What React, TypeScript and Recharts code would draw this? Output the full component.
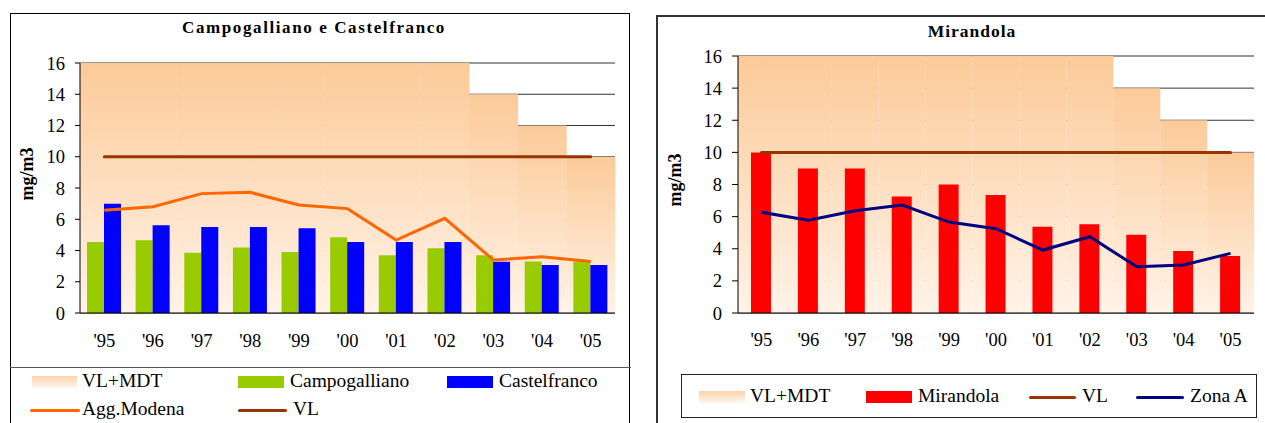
import React from 'react';
import { ComposedChart, Bar, Line, XAxis, YAxis, CartesianGrid, ReferenceLine } from 'recharts';

const years = ["'95", "'96", "'97", "'98", "'99", "'00", "'01", "'02", "'03", "'04", "'05"];
const vlMdt = [16, 16, 16, 16, 16, 16, 16, 16, 14, 12, 10];
const vl = [10, 10, 10, 10, 10, 10, 10, 10, 10, 10, 10];
const campogalliano = [4.55, 4.65, 3.85, 4.2, 3.9, 4.85, 3.7, 4.15, 3.7, 3.3, 3.3];
const castelfranco = [7.0, 5.62, 5.5, 5.5, 5.42, 4.55, 4.55, 4.55, 3.28, 3.07, 3.07];
const aggModena = [6.57, 6.8, 7.64, 7.72, 6.91, 6.68, 4.67, 6.06, 3.39, 3.6, 3.3];
const mirandola = [10.0, 9.0, 9.0, 7.25, 8.0, 7.35, 5.37, 5.52, 4.87, 3.86, 3.55];
const zonaA = [6.27, 5.77, 6.37, 6.72, 5.66, 5.25, 3.92, 4.75, 2.88, 2.99, 3.71];
const yTicks = [0, 2, 4, 6, 8, 10, 12, 14, 16];
const boundaryTicks = [0, 1, 2, 3, 4, 5, 6, 7, 8, 9, 10, 11];

const leftData = years.map((year, i) => ({
  year,
  mdt: vlMdt[i],
  vl: vl[i],
  camp: campogalliano[i],
  cast: castelfranco[i],
  agg: aggModena[i],
}));

const rightData = years.map((year, i) => ({
  year,
  mdt: vlMdt[i],
  vl: vl[i],
  mir: mirandola[i],
  zona: zonaA[i],
}));

const FONT = "'Liberation Serif', 'Times New Roman', serif";
const C_MDT_TOP = '#FCCA98';
const C_MDT_BOT = '#FFF3E8';
const C_VL = '#993300';

const tickStyle = { fill: '#000', fontSize: 18.5, fontFamily: FONT };

function Swatch({ x, cy, w, kind, color }: { x: number; cy: number; w: number; kind: string; color: string }) {
  if (kind === 'line') {
    return <div style={{ position: 'absolute', left: x, top: cy - 1.5, width: w, height: 3, background: color, borderRadius: 2 }} />;
  }
  return <div style={{ position: 'absolute', left: x, top: cy - 6, width: w, height: 12, background: color }} />;
}

function LegendText({ x, cy, text }: { x: number; cy: number; text: string }) {
  return (
    <div style={{ position: 'absolute', left: x, top: cy - 11, height: 22, lineHeight: '22px', fontFamily: FONT, fontSize: 19.5, color: '#000', whiteSpace: 'nowrap' }}>
      {text}
    </div>
  );
}

function LeftChart() {
  return (
    <ComposedChart
      width={621}
      height={345}
      data={leftData}
      margin={{ top: 50, right: 16, bottom: 0, left: 0 }}
      barCategoryGap={0}
      barGap={0}
      style={{ fontFamily: FONT }}
    >
      <defs>
        <linearGradient id="mdtL" x1="0" y1="0" x2="0" y2="1">
          <stop offset="0" stopColor={C_MDT_TOP} />
          <stop offset="1" stopColor={C_MDT_BOT} />
        </linearGradient>
      </defs>
      <CartesianGrid horizontal vertical={false} stroke="#333" />
      <XAxis xAxisId="bnd" type="number" domain={[0, 11]} ticks={boundaryTicks} tick={false} axisLine={false} tickLine={{ stroke: '#000' }} tickSize={4} height={0} allowDataOverflow />
      <XAxis dataKey="year" tickLine={false} axisLine={{ stroke: '#000' }} tick={tickStyle} tickMargin={15} interval={0} height={45} />
      <XAxis xAxisId="bg" dataKey="year" hide />
      <YAxis domain={[0, 16]} ticks={yTicks} tick={tickStyle} tickSize={5} tickMargin={10} tickLine={{ stroke: '#000' }} axisLine={{ stroke: '#000' }} width={70} interval={0} />
      <Bar xAxisId="bg" dataKey="mdt" fill="url(#mdtL)" isAnimationActive={false} />
      <Bar dataKey="camp" fill="#99CC00" barSize={17} isAnimationActive={false} />
      <Bar dataKey="cast" fill="#0000FF" barSize={17} isAnimationActive={false} />
      <Line dataKey="agg" stroke="#FF6600" strokeWidth={3} dot={false} activeDot={false} isAnimationActive={false} />
      <Line dataKey="vl" stroke={C_VL} strokeWidth={3} dot={false} activeDot={false} strokeLinecap="round" isAnimationActive={false} />
      <ReferenceLine
        xAxisId="bnd"
        segment={[{ x: years.length, y: vlMdt[vlMdt.length - 1] }, { x: years.length, y: yTicks[yTicks.length - 1] }]}
        stroke="#808080"
      />
    </ComposedChart>
  );
}

function RightChart() {
  return (
    <ComposedChart
      width={608}
      height={342}
      data={rightData}
      margin={{ top: 40, right: 11, bottom: 0, left: 0 }}
      barCategoryGap={0}
      barGap={0}
      style={{ fontFamily: FONT }}
    >
      <defs>
        <linearGradient id="mdtR" x1="0" y1="0" x2="0" y2="1">
          <stop offset="0" stopColor={C_MDT_TOP} />
          <stop offset="1" stopColor={C_MDT_BOT} />
        </linearGradient>
      </defs>
      <CartesianGrid horizontal vertical={false} stroke="#333" />
      <XAxis xAxisId="bnd" type="number" domain={[0, 11]} ticks={boundaryTicks} tick={false} axisLine={false} tickLine={{ stroke: '#000' }} tickSize={4} height={0} allowDataOverflow />
      <XAxis dataKey="year" tickLine={false} axisLine={{ stroke: '#000' }} tick={tickStyle} tickMargin={14} interval={0} height={45} />
      <XAxis xAxisId="bg" dataKey="year" hide />
      <YAxis domain={[0, 16]} ticks={yTicks} tick={tickStyle} tickSize={6} tickMargin={10} tickLine={{ stroke: '#000' }} axisLine={{ stroke: '#000' }} width={81} interval={0} />
      <Bar xAxisId="bg" dataKey="mdt" fill="url(#mdtR)" isAnimationActive={false} />
      <Bar dataKey="mir" fill="#FF0000" barSize={20} isAnimationActive={false} />
      <Line dataKey="vl" stroke={C_VL} strokeWidth={3} dot={false} activeDot={false} strokeLinecap="round" isAnimationActive={false} />
      <Line dataKey="zona" stroke="#000080" strokeWidth={3} dot={false} activeDot={false} isAnimationActive={false} />
      <ReferenceLine
        xAxisId="bnd"
        segment={[{ x: years.length, y: vlMdt[vlMdt.length - 1] }, { x: years.length, y: yTicks[yTicks.length - 1] }]}
        stroke="#333"
      />
    </ComposedChart>
  );
}

const mdtSwatch = 'linear-gradient(to bottom, #FCD3AB, #FFF6EE)';

export default function App() {
  return (
    <div style={{ position: 'absolute', left: 0, top: 0, width: 1265, height: 423, overflow: 'hidden', background: '#fff', fontFamily: FONT }}>
      {/* Left box */}
      <div style={{ position: 'absolute', left: 10, top: 13, width: 620, height: 440, border: '1.5px solid #000', boxSizing: 'border-box' }} />
      <div style={{ position: 'absolute', left: 10, top: 367, width: 621, height: 0, borderTop: '1px solid #555' }} />
      <div style={{ position: 'absolute', left: 314, top: 28, transform: 'translate(-50%, -50%)', fontFamily: FONT, fontWeight: 'bold', fontSize: 17, letterSpacing: 1.6, whiteSpace: 'nowrap' }}>
        Campogalliano e Castelfranco
      </div>
      <div style={{ position: 'absolute', left: 27, top: 174, transform: 'translate(-50%, -50%) rotate(-90deg)', fontFamily: FONT, fontWeight: 'bold', fontSize: 18, whiteSpace: 'nowrap' }}>
        mg/m3
      </div>
      <div style={{ position: 'absolute', left: 10, top: 13 }}>
        <LeftChart />
      </div>
      <Swatch x={32} cy={382} w={45} kind="box" color={mdtSwatch} />
      <LegendText x={82} cy={381} text="VL+MDT" />
      <Swatch x={238} cy={382} w={46} kind="box" color="#99CC00" />
      <LegendText x={290} cy={381} text="Campogalliano" />
      <Swatch x={447} cy={382} w={46} kind="box" color="#0000FF" />
      <LegendText x={499} cy={381} text="Castelfranco" />
      <Swatch x={30} cy={410} w={50} kind="line" color="#FF6600" />
      <LegendText x={82} cy={409} text="Agg.Modena" />
      <Swatch x={238} cy={410} w={49} kind="line" color={C_VL} />
      <LegendText x={293} cy={409} text="VL" />

      {/* Right box */}
      <div style={{ position: 'absolute', left: 656, top: 15, width: 700, height: 440, border: '2px solid #333', boxSizing: 'border-box' }} />
      <div style={{ position: 'absolute', left: 972, top: 31, transform: 'translate(-50%, -50%)', fontFamily: FONT, fontWeight: 'bold', fontSize: 17.5, letterSpacing: 1, whiteSpace: 'nowrap' }}>
        Mirandola
      </div>
      <div style={{ position: 'absolute', left: 675, top: 180, transform: 'translate(-50%, -50%) rotate(-90deg)', fontFamily: FONT, fontWeight: 'bold', fontSize: 18, whiteSpace: 'nowrap' }}>
        mg/m3
      </div>
      <div style={{ position: 'absolute', left: 657, top: 16 }}>
        <RightChart />
      </div>
      <div style={{ position: 'absolute', left: 681, top: 374, width: 576, height: 44, border: '1.5px solid #222', boxSizing: 'border-box' }} />
      <Swatch x={699} cy={397} w={46} kind="box" color={mdtSwatch} />
      <LegendText x={750} cy={396} text="VL+MDT" />
      <Swatch x={866} cy={397} w={46} kind="box" color="#FF0000" />
      <LegendText x={918} cy={396} text="Mirandola" />
      <Swatch x={1029} cy={397} w={47} kind="line" color={C_VL} />
      <LegendText x={1082} cy={396} text="VL" />
      <Swatch x={1136} cy={397} w={48} kind="line" color="#000080" />
      <LegendText x={1190} cy={396} text="Zona A" />
    </div>
  );
}
